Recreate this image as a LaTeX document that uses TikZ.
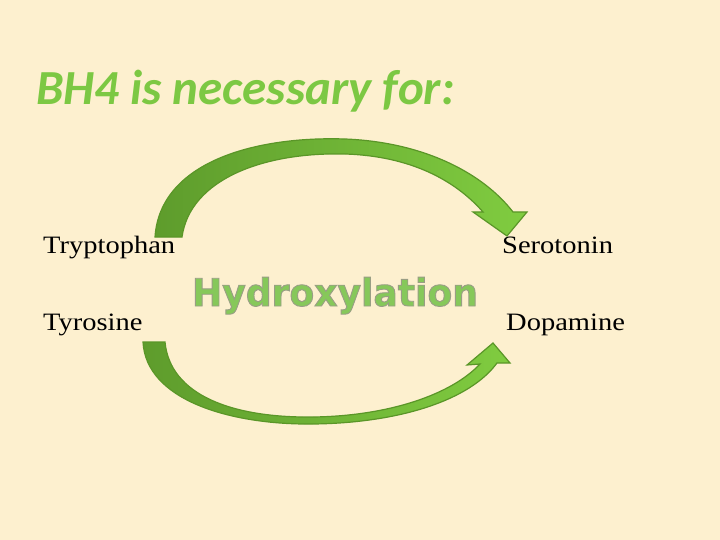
\documentclass[tikz,border=0pt]{standalone}
\usepackage{fontspec}
\setmainfont{Liberation Serif}
\newfontfamily\titlefont{Carlito}
\newfontfamily\hydfont[FakeStretch=0.95]{DejaVu Sans}
\newfontfamily\cmpfont[FakeStretch=1.14]{Liberation Serif}
\definecolor{bgcream}{HTML}{FDF0CF}
\definecolor{titlegreen}{HTML}{7CC843}
\definecolor{hydgreen}{HTML}{86C85A}
\definecolor{darkband}{HTML}{5E9C2C}
\definecolor{lightband}{HTML}{80CC40}
\definecolor{bandline}{HTML}{5A9628}
\tikzset{
  compound/.style={anchor=base west, inner sep=0pt, font=\cmpfont\fontsize{25}{30}\selectfont},
  band/.style={left color=darkband, right color=lightband, draw=bandline, line width=1.2pt, line join=miter},
}
% Umrisstext (Fuellen + Konturlinie)
\newcommand{\hydtext}{\special{pdf:literal direct 0.60 0.62 0.52 RG 0.9 w 2 Tr}%
  {\hydfont\bfseries\fontsize{38}{44}\selectfont Hydroxylation}%
  \special{pdf:literal direct 0 Tr}}
\begin{document}
\begin{tikzpicture}[x=1pt, y=-1pt]

  % Hintergrund
  \fill[bgcream] (0,0) rectangle (720,540);
  \useasboundingbox (0,0) rectangle (720,540);

  % Titel
  \node[anchor=base west, inner sep=0pt, text=titlegreen,
        font=\titlefont\bfseries\itshape\fontsize{49}{56}\selectfont]
        (title) at (36,105) {BH4 is necessary for:};

  % Verbindungen
  \node[compound] (trp) at (43,254) {Tryptophan};
  \node[compound] (tyr) at (43,330) {Tyrosine};
  \node[compound] (ser) at (502,254) {Serotonin};
  \node[compound] (dop) at (506,330) {Dopamine};

  % Hydroxylierung
  \node[anchor=base, inner sep=0pt, text=hydgreen] (hyd) at (335,306) {\hydtext};

  % oberer Pfeil
  \draw[band] (155,237) .. controls (160,162) and (255,136) .. (345,139)
              .. controls (422,142) and (482,172) .. (513,212)
              -- (527,212) -- (507,236) -- (473,212) -- (483,212)
              .. controls (455,180) and (410,156) .. (345,154)
              .. controls (262,152) and (190,180) .. (182,237) -- cycle;

  % unterer Pfeil
  \draw[band] (143,342) .. controls (146,400) and (230,425) .. (313,424)
              .. controls (400,423) and (470,400) .. (497,363)
              -- (510,363) -- (493,343) -- (467,365) -- (480,364)
              .. controls (452,394) and (390,416) .. (313,417)
              .. controls (232,418) and (170,395) .. (165,342) -- cycle;
\end{tikzpicture}
\end{document}
